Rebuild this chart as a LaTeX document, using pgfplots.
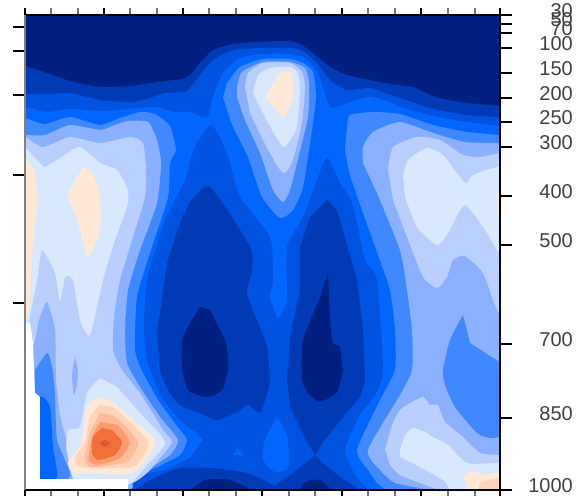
\documentclass[border=0pt]{standalone}
\usepackage{pgfplots}
\pgfplotsset{compat=1.18}
\usepackage{fontspec}
\setmainfont{Liberation Sans}
\definecolor{LA}{HTML}{00207F}
\definecolor{LB}{HTML}{003AB4}
\definecolor{LC}{HTML}{0052E0}
\definecolor{LD}{HTML}{0066FF}
\definecolor{LE}{HTML}{4088FF}
\definecolor{LF}{HTML}{8AB0FF}
\definecolor{LG}{HTML}{B8CFFF}
\definecolor{LH}{HTML}{D8E8FF}
\definecolor{LI}{HTML}{FFE8D6}
\definecolor{LJ}{HTML}{FFD4B8}
\definecolor{LK}{HTML}{FFBC98}
\definecolor{LL}{HTML}{FA9C70}
\definecolor{LM}{HTML}{F07038}
\definecolor{LN}{HTML}{D85A38}
\definecolor{labc}{HTML}{404040}
\newcommand\reg[2]{\addplot[fill=#1,draw=none,forget plot,smooth,tension=0.35] coordinates {#2} -- cycle;}
\newcommand\pol[2]{\addplot[fill=#1,draw=none,forget plot] coordinates {#2} -- cycle;}
\begin{document}
\begin{tikzpicture}[x=1pt,y=1pt]
\path[use as bounding box] (0,0) rectangle (582,496);
\begin{axis}[name=main,at={(25pt,6pt)},anchor=south west,scale only axis,width=475pt,height=475pt,
 xmin=25,xmax=500,ymin=15,ymax=490,y dir=reverse,axis on top,
 axis line style={line width=1.1pt,black},
 xtick={25,104,183,262,342,421,500},minor xtick={51,78,130,157,209,236,289,315,368,395,448,475},
 xticklabels={},ytick=\empty,xtick pos=both,tick align=outside,
 major tick length=7pt,minor tick length=7pt,
 every major tick/.append style={line width=1.1pt,black},
 every minor tick/.append style={line width=1.1pt,black!55}]
\pol{LA}{(25,15)(500,15)(500,490)(25,490)}
\reg{LB}{(15,62)(25,66)(47,73)(70,81)(100,87)(130,86)(165,81)(183,79)(190,75)(200,63)(213,50)(233,44)(257,42)(287,41)(300,44)(313,53)(330,67)(347,75)(370,80)(390,84)(413,87)(430,95)(443,99)(467,103)(500,106)(515,108)(530,530)(5,530)}
\reg{LC}{(15,94)(25,94)(47,94)(70,93)(100,100)(130,102)(150,98)(165,93)(185,92)(190,88)(200,75)(213,60)(233,50)(263,48)(290,48)(303,51)(317,63)(330,80)(347,90)(370,88)(390,95)(400,98)(433,109)(467,115)(500,117)(515,118)(530,530)(5,530)}
\reg{LD}{(15,105)(25,107)(47,112)(70,109)(100,111)(130,109)(155,107)(175,112)(190,112)(207,118)(213,97)(223,73)(240,58)(263,54)(290,54)(305,58)(318,73)(330,107)(347,103)(370,97)(390,102)(400,107)(433,116)(467,122)(500,126)(515,127)(530,530)(5,530)}
% central low
\reg{LC}{(203,440)(195,432)(180,420)(160,395)(147,360)(144,330)(147,280)(165,220)(185,180)(190,160)(197,143)(210,125)(220,137)(230,163)(240,197)(270,237)(273,280)(270,297)(278,318)(287,300)(287,247)(303,217)(317,180)(327,157)(340,183)(353,205)(365,260)(377,280)(383,370)(375,395)(360,415)(345,450)(355,475)(367,490)(370,510)(120,510)(130,478)(165,470)(190,458)}
\reg{LD}{(277,417)(265,440)(263,460)(275,472)(288,468)(288,440)(282,425)}
\pol{LD}{(238,448)(233,455)(243,455)}
% L1 lobes
\reg{LB}{(157,330)(160,370)(168,390)(180,405)(200,413)(217,420)(237,412)(248,405)(260,413)(268,390)(270,380)(267,347)(258,323)(247,293)(252,270)(250,247)(210,187)(187,207)(168,260)(160,313)}
\pol{LB}{(327,200)(310,217)(300,247)(300,290)(290,337)(287,380)(290,407)(305,438)(315,455)(323,442)(343,417)(360,397)(365,380)(363,330)(357,280)(337,210)}
\pol{LB}{(315,455)(297,470)(277,484)(270,490)(360,490)(340,477)(323,463)}
\reg{LB}{(128,495)(150,480)(180,468)(213,468)(247,473)(273,485)(280,495)}
\reg{LA}{(183,495)(205,480)(230,480)(262,495)}
\reg{LA}{(297,495)(305,482)(320,480)(337,495)}
\reg{LA}{(200,307)(183,337)(182,367)(188,390)(207,397)(222,390)(228,370)(228,357)(225,340)(210,310)}
\reg{LA}{(328,273)(320,297)(303,340)(302,380)(308,393)(320,402)(337,392)(343,370)(342,367)(340,347)(333,343)(330,320)}
% L4
\reg{LE}{(15,116)(25,118)(45,124)(70,117)(100,125)(120,118)(140,112)(155,114)(170,126)(176,150)(170,163)(168,197)(150,253)(137,297)(135,350)(143,373)(160,403)(180,430)(187,440)(180,455)(155,468)(130,478)(128,490)(5,510)}
\reg{LE}{(227,83)(240,67)(263,59)(290,59)(303,63)(313,72)(316,97)(312,130)(303,187)(293,210)(280,218)(262,197)(248,157)(233,127)(223,97)}
\reg{LE}{(347,127)(350,115)(373,112)(400,114)(433,125)(467,132)(500,135)(515,136)(520,520)(390,510)(385,490)(377,483)(368,470)(357,450)(380,400)(395,370)(395,330)(390,290)(378,255)(362,210)(350,175)(345,150)}
% L5
\reg{LF}{(15,135)(25,135)(45,135)(70,125)(100,130)(115,125)(128,121)(148,122)(157,140)(161,163)(157,203)(140,250)(128,290)(125,330)(127,363)(140,387)(160,417)(178,440)(170,455)(150,468)(128,477)(128,490)(5,510)}
\reg{LF}{(237,87)(242,72)(263,62)(290,62)(305,68)(309,83)(308,117)(297,163)(290,190)(283,202)(273,190)(260,153)(245,120)(237,97)}
\reg{LF}{(363,163)(363,147)(373,132)(400,122)(433,133)(465,142)(500,143)(515,143)(520,520)(440,510)(425,490)(395,483)(380,470)(368,450)(400,395)(412,370)(412,330)(407,290)(400,250)(377,193)}
% L4 blob right
\reg{LE}{(463,315)(450,340)(443,370)(445,385)(455,407)(477,433)(490,438)(500,437)(515,435)(515,365)(500,362)(470,343)}
% L6
\reg{LG}{(15,133)(25,137)(43,147)(70,137)(100,143)(130,137)(143,143)(146,170)(145,197)(133,237)(120,280)(114,317)(113,350)(122,370)(140,393)(163,430)(172,442)(160,458)(147,473)(127,485)(60,490)(5,490)}
\reg{LG}{(245,87)(248,73)(263,63)(290,63)(302,72)(305,87)(302,123)(293,160)(285,173)(278,167)(263,140)(250,113)}
\reg{LG}{(388,170)(393,147)(417,137)(440,140)(463,155)(480,157)(500,153)(515,152)(515,330)(497,310)(483,273)(465,256)(453,260)(447,277)(437,288)(423,277)(407,237)(393,200)}
\reg{LG}{(385,450)(392,425)(400,410)(407,405)(423,397)(430,405)(438,405)(445,422)(463,437)(480,453)(500,455)(515,455)(515,510)(445,505)(437,490)(430,487)(400,475)(390,465)}
% left inner lows
\reg{LF}{(15,345)(33,345)(37,330)(40,317)(47,302)(55,330)(56,380)(60,415)(66,440)(66,450)(75,485)(15,490)}
\reg{LE}{(35,370)(43,358)(48,353)(52,367)(55,393)(57,440)(70,476)(40,485)(35,393)}
\reg{LD}{(38,397)(43,397)(50,407)(53,447)(57,477)(40,485)}
\reg{LF}{(75,357)(72,375)(74,395)(77,385)(78,370)}
% L7
\reg{LH}{(15,135)(25,147)(40,163)(45,167)(60,158)(80,147)(100,163)(117,170)(128,190)(127,207)(115,240)(103,280)(90,335)(80,320)(73,280)(65,277)(60,302)(55,273)(42,250)(37,280)(28,323)(15,330)}
\reg{LH}{(100,378)(87,393)(80,427)(68,430)(67,450)(77,485)(127,485)(147,465)(165,442)(140,413)(117,387)}
\reg{LH}{(253,93)(258,75)(270,68)(290,67)(298,73)(300,90)(297,127)(285,147)(278,140)(268,123)}
\reg{LH}{(403,177)(408,160)(427,148)(443,155)(465,183)(473,175)(497,167)(515,165)(515,262)(497,250)(487,233)(465,205)(448,233)(437,245)(417,227)(405,197)}
\reg{LH}{(400,450)(405,435)(413,428)(425,432)(433,437)(448,445)(467,463)(497,463)(515,462)(515,510)(455,505)(450,490)(443,480)(420,467)(400,457)}
% L8
\reg{LI}{(20,155)(25,157)(35,173)(37,203)(33,243)(30,297)(27,320)(20,320)}
\reg{LI}{(83,167)(68,195)(77,220)(88,257)(100,230)(100,197)(93,173)}
\reg{LI}{(265,97)(280,73)(292,73)(293,97)(284,118)(277,110)}
\pol{LI}{(498,193)(500,193)(500,217)(498,217)}
\pol{LI}{(463,475)(472,471)(483,475)(498,472)(500,472)(500,490)(468,490)}
\pol{LJ}{(478,490)(480,482)(498,478)(500,490)}
% warm peak
\reg{LI}{(99,397)(87,405)(82,440)(74,455)(68,462)(72,472)(93,473)(133,473)(156,442)(133,420)(113,402)}
\reg{LJ}{(100,405)(90,417)(85,443)(75,457)(80,467)(133,467)(148,443)(128,420)(113,407)}
\reg{LK}{(100,413)(90,433)(85,457)(90,467)(127,462)(138,443)(123,423)(112,415)}
\reg{LL}{(100,422)(92,437)(89,460)(97,465)(120,458)(130,442)(118,425)}
\reg{LM}{(102,428)(93,437)(92,453)(98,460)(115,455)(122,442)(112,430)}
\reg{LN}{(105,440)(100,443)(105,447)(111,443)}
% white
\pol{white}{(25,325)(30,322)(33,343)(34,370)(35,393)(40,397)(40,479)(128,479)(128,490)(25,490)}
\end{axis}
\begin{axis}[at={(25pt,6pt)},anchor=south west,scale only axis,width=475pt,height=475pt,
 xmin=25,xmax=500,ymin=15,ymax=490,y dir=reverse,
 axis x line=none,axis y line*=left,
 axis line style={line width=1.8pt,black!50},
 ytick={27,51,95,175,303},yticklabels={},tick align=outside,major tick length=12pt,
 every major tick/.append style={line width=1.1pt,black}]
\addplot[draw=none,forget plot] coordinates {(25,15)};
\end{axis}
\begin{axis}[at={(25pt,6pt)},anchor=south west,scale only axis,width=475pt,height=475pt,
 xmin=25,xmax=500,ymin=15,ymax=490,y dir=reverse,
 axis x line=none,axis y line*=right,
 axis line style={line width=1.1pt,black},
 ytick={15,24,33,48,73,98,122,147,196,245,344,418,490},
 yticklabels={30,50,70,100,150,200,250,300,400,500,700,850,1000},
 tick align=outside,major tick length=12pt,
 every major tick/.append style={line width=1.1pt,black},
 yticklabel style={font=\fontsize{20}{20}\selectfont,text=labc,anchor=east,xshift=61pt,yshift=4pt,inner sep=0pt}]
\addplot[draw=none,forget plot] coordinates {(25,15)};
\end{axis}
\end{tikzpicture}
\end{document}
